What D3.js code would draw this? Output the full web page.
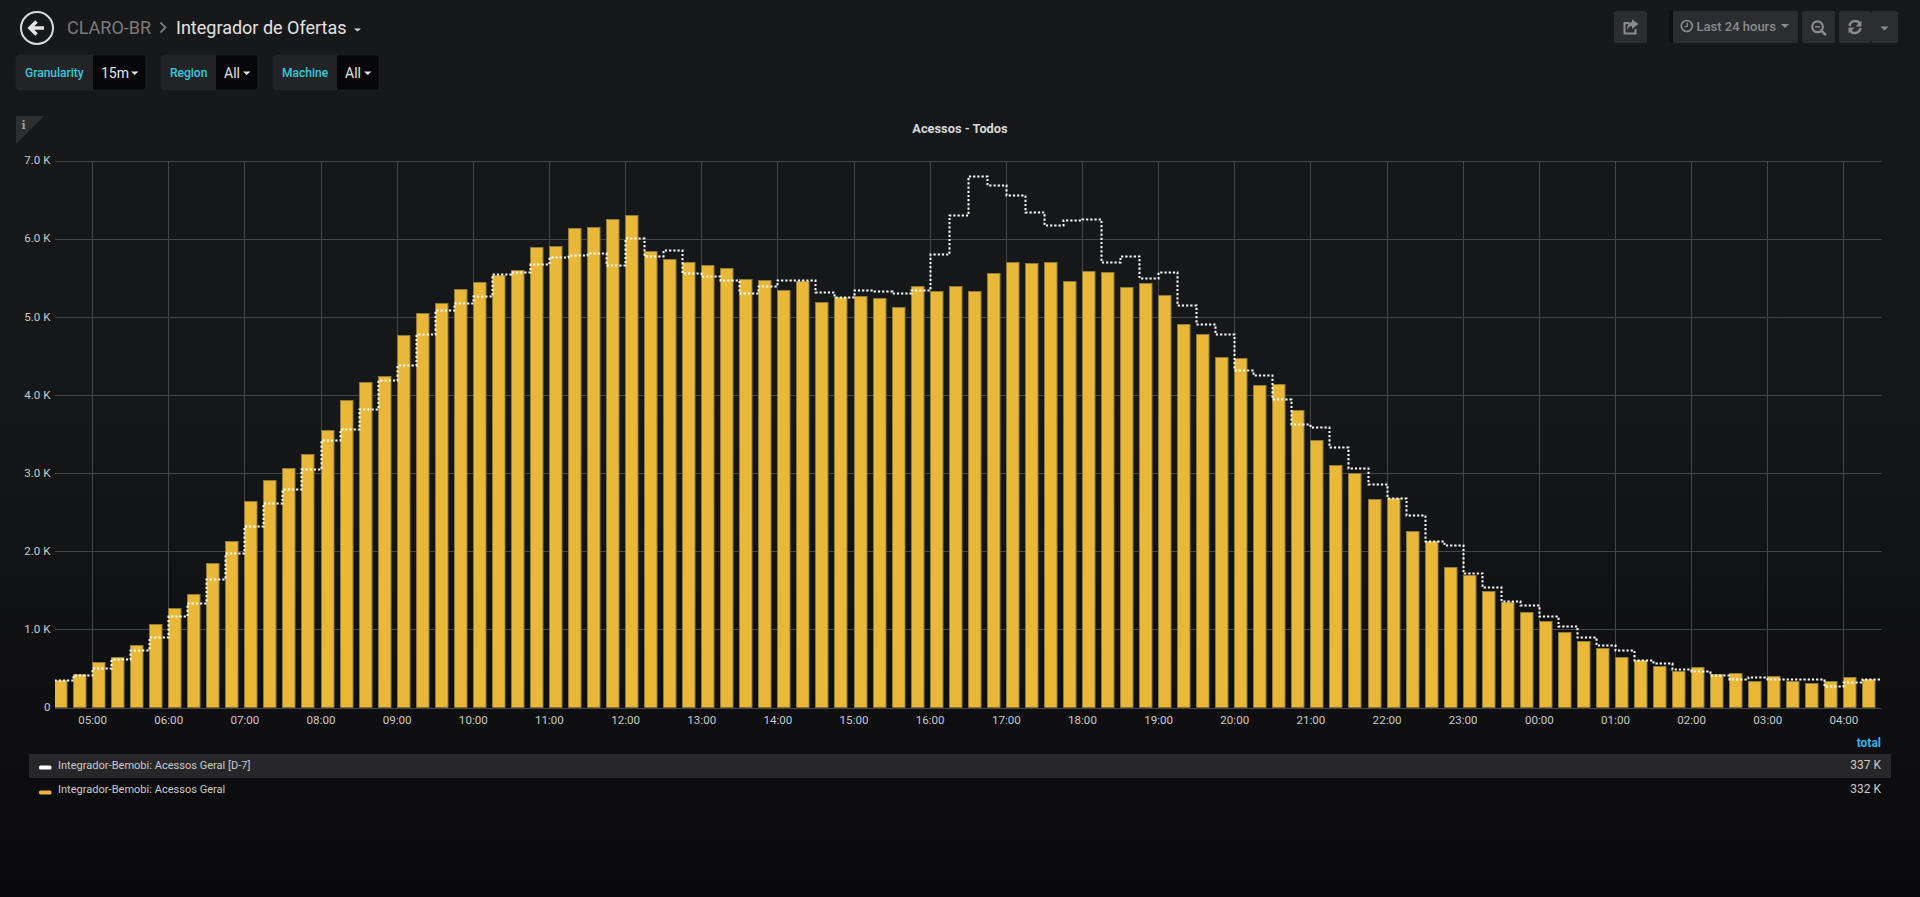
<!DOCTYPE html>
<html>
<head>
<meta charset="utf-8">
<title>Integrador de Ofertas</title>
<script src="https://cdn.jsdelivr.net/npm/d3@7"></script>
<style>
    html, body { margin: 0; padding: 0; background: #0b0c0e; overflow: hidden; }
    svg { display: block; }
    text { font-family: Roboto, "Noto Sans", sans-serif; }
</style>
</head>
<body>
<div id="chart"></div>
<script>
// values, one per 15 minute bucket, starting 04:30
const acessosGeral = [
    350, 435, 584, 640, 806, 1074, 1279, 1458, 1854, 2135, 2647, 2916,
    3069, 3240, 3555, 3934, 4167, 4240, 4764, 5045, 5175, 5355, 5440, 5534,
    5603, 5897, 5910, 6141, 6154, 6256, 6303, 5846, 5744, 5697, 5667, 5628,
    5483, 5466, 5338, 5462, 5184, 5248, 5261, 5239, 5120, 5389, 5333, 5397,
    5329, 5564, 5701, 5688, 5701, 5462, 5585, 5573, 5376, 5436, 5273, 4904,
    4778, 4491, 4474, 4128, 4141, 3803, 3423, 3103, 2996, 2667, 2675, 2258,
    2134, 1800, 1694, 1485, 1347, 1225, 1113, 964, 857, 763, 644, 606,
    525, 469, 520, 435, 444, 333, 409, 341, 311, 333, 392, 362
];
const acessosGeralD7 = [
    358, 413, 507, 618, 742, 899, 1172, 1334, 1650, 1974, 2323, 2613,
    2800, 3052, 3419, 3568, 3824, 4188, 4385, 4776, 5081, 5171, 5261, 5547,
    5568, 5675, 5761, 5786, 5816, 5658, 6013, 5778, 5850, 5556, 5517, 5474,
    5299, 5389, 5466, 5466, 5320, 5248, 5346, 5333, 5303, 5346, 5799, 6308,
    6808, 6692, 6560, 6338, 6179, 6235, 6256, 5705, 5774, 5500, 5573, 5150,
    4906, 4778, 4325, 4261, 3953, 3632, 3590, 3338, 3060, 2855, 2680, 2465,
    2134, 2085, 1719, 1536, 1362, 1318, 1173, 1045, 896, 797, 742, 610,
    567, 490, 465, 418, 367, 392, 362, 362, 362, 277, 320, 362
];
const yTicks = [0, 1000, 2000, 3000, 4000, 5000, 6000, 7000];
const seriesNames = ["Integrador-Bemobi: Acessos Geral [D-7]", "Integrador-Bemobi: Acessos Geral"];
const seriesTotals = ["337 K", "332 K"];
const seriesColors = ["#ffffff", "#EAB839"];

const width = 1920, height = 897;
const margin = { top: 160.5, right: 38.5, bottom: 189.5, left: 54 };
const bucket = 15 * 60 * 1000;
const start = new Date(2019, 0, 15, 4, 30).getTime();
const times = acessosGeral.map((d, i) => new Date(start + i * bucket));
const end = new Date(start + times.length * bucket);

const svg = d3.select("#chart").append("svg")
    .attr("width", width)
    .attr("height", height);

const defs = svg.append("defs");
const bg = defs.append("linearGradient")
    .attr("id", "page-bg")
    .attr("x1", 0).attr("y1", 0).attr("x2", 0).attr("y2", 1);
bg.append("stop").attr("offset", "0%").attr("stop-color", "#17181a");
bg.append("stop").attr("offset", "45%").attr("stop-color", "#161719");
bg.append("stop").attr("offset", "100%").attr("stop-color", "#0a0a0c");

svg.append("rect")
    .attr("width", width)
    .attr("height", height)
    .attr("fill", "url(#page-bg)");

drawHeader();
drawPanel();
drawLegend();

function drawPanel() {
    const x = d3.scaleTime()
        .domain([times[0], end])
        .range([margin.left, width - margin.right]);
    const y = d3.scaleLinear()
        .domain([0, 7000])
        .range([height - margin.bottom, margin.top]);

    defs.append("clipPath")
        .attr("id", "plot-clip")
        .append("rect")
        .attr("x", margin.left + 1)
        .attr("y", margin.top - 2)
        .attr("width", width - margin.left - margin.right - 1)
        .attr("height", height - margin.top - margin.bottom + 2);

    // info corner
    svg.append("path").attr("d", "M16,116H44L16,144Z").attr("fill", "#2e2f33");
    svg.append("text")
        .attr("x", 23.5).attr("y", 128.5)
        .attr("text-anchor", "middle")
        .attr("fill", "#a0a0a2")
        .attr("font-size", 11)
        .style("font-family", "DejaVu Serif")
        .attr("font-weight", 700)
        .text("i");

    svg.append("text")
        .attr("x", 960).attr("y", 133)
        .attr("text-anchor", "middle")
        .attr("fill", "#d8d9da")
        .attr("font-size", 12.8)
        .attr("font-weight", 700)
        .text("Acessos - Todos");

    // grid
    const hours = times.filter(t => t.getMinutes() === 0);
    svg.append("g").selectAll("line")
        .data(hours)
        .join("line")
        .attr("x1", d => Math.round(x(d)) + 0.5)
        .attr("x2", d => Math.round(x(d)) + 0.5)
        .attr("y1", Math.round(y(7000)) + 0.5)
        .attr("y2", Math.round(y(0)) + 0.5)
        .attr("stroke", "#454648");
    svg.append("g").selectAll("line")
        .data(yTicks)
        .join("line")
        .attr("x1", margin.left + 1)
        .attr("x2", width - margin.right)
        .attr("y1", d => Math.round(y(d)) + 0.5)
        .attr("y2", d => Math.round(y(d)) + 0.5)
        .attr("stroke", "#454648");

    // axes
    const xAxis = d3.axisBottom(x)
        .tickValues(hours)
        .tickSize(0)
        .tickPadding(0)
        .tickFormat(d3.timeFormat("%H:%M"));
    const xAxisGroup = svg.append("g")
        .attr("transform", `translate(0, ${y(0) + 8.5})`)
        .call(xAxis);
    const yAxis = d3.axisLeft(y)
        .tickValues(yTicks)
        .tickSize(0)
        .tickPadding(4)
        .tickFormat(d => d === 0 ? "0" : d3.format(".1f")(d / 1000) + " K");
    const yAxisGroup = svg.append("g")
        .attr("transform", `translate(${margin.left + 0.5}, 0)`)
        .call(yAxis);
    [xAxisGroup, yAxisGroup].forEach(g => {
        g.attr("font-family", null);
        g.select(".domain").remove();
        g.selectAll("text")
            .attr("fill", "#c8c9ca")
            .attr("font-size", 11.6);
    });
    yAxisGroup.selectAll("text").attr("dy", "0.28em");

    const plot = svg.append("g").attr("clip-path", "url(#plot-clip)");

    // bars
    const barW = (x(times[1]) - x(times[0])) * 0.68;
    plot.append("g").selectAll("rect")
        .data(acessosGeral)
        .join("rect")
        .attr("x", (d, i) => Math.round(x(times[i])) + 0.5)
        .attr("y", d => Math.round(y(d)) + 0.5)
        .attr("width", Math.round(barW) - 0.5)
        .attr("height", d => Math.round(y(0)) - Math.round(y(d)) - 0.5)
        .attr("fill", seriesColors[1])
        .attr("stroke", "#917c35")
        .attr("stroke-width", 1);

    // D-7 line, held flat until the end of the last bucket
    const line = d3.line()
        .x(d => Math.round(x(d[0])) + 0.5)
        .y(d => Math.round(y(d[1])) + 0.5)
        .curve(d3.curveStepAfter);
    const linePoints = acessosGeralD7.map((d, i) => [times[i], d]);
    linePoints.push([end, acessosGeralD7[acessosGeralD7.length - 1]]);
    plot.append("path")
        .attr("d", line(linePoints))
        .attr("fill", "none")
        .attr("stroke", seriesColors[0])
        .attr("stroke-width", 2)
        .attr("stroke-dasharray", "2.2,2");
}

function drawLegend() {
    svg.append("text")
        .attr("x", 1881).attr("y", 747)
        .attr("text-anchor", "end")
        .attr("fill", "#33b5e5")
        .attr("font-size", 12)
        .attr("font-weight", 700)
        .text("total");

    svg.append("rect")
        .attr("x", 29).attr("y", 754)
        .attr("width", 1862).attr("height", 24)
        .attr("fill", "#272729");

    const rows = svg.append("g").selectAll("g")
        .data(seriesNames)
        .join("g")
        .attr("transform", (d, i) => `translate(0, ${766 + i * 24})`);
    rows.append("rect")
        .attr("x", 39).attr("y", (d, i) => i === 0 ? -0.5 : 0.5)
        .attr("width", 12.5).attr("height", 4)
        .attr("rx", 1.5)
        .attr("fill", (d, i) => seriesColors[i]);
    rows.append("text")
        .attr("x", 58).attr("y", 2.5)
        .attr("fill", "#c8c9ca")
        .attr("font-size", 11.05)
        .text(d => d);
    rows.append("text")
        .attr("x", 1881).attr("y", 2.5)
        .attr("text-anchor", "end")
        .attr("fill", "#c8c9ca")
        .attr("font-size", 12)
        .text((d, i) => seriesTotals[i]);
}

function drawHeader() {
    // back button
    svg.append("circle")
        .attr("cx", 37).attr("cy", 28).attr("r", 16)
        .attr("fill", "none").attr("stroke", "#dcdcdc").attr("stroke-width", 2);
    svg.append("path")
        .attr("d", "M44,28H31M36.5,21.5L30,28L36.5,34.5")
        .attr("fill", "none").attr("stroke", "#e4e4e4").attr("stroke-width", 3.6);

    svg.append("text")
        .attr("x", 67).attr("y", 34)
        .attr("fill", "#7b7b7b")
        .attr("font-size", 18)
        .text("CLARO-BR");
    svg.append("path")
        .attr("d", "M160.5,22.5L165.5,27.5L160.5,32.5")
        .attr("fill", "none").attr("stroke", "#7b7b7b").attr("stroke-width", 1.8);
    svg.append("text")
        .attr("x", 176).attr("y", 34)
        .attr("fill", "#e3e3e3")
        .attr("font-size", 18)
        .text("Integrador de Ofertas");
    svg.append("path").attr("d", "M354,28.5h7l-3.5,3Z").attr("fill", "#d8d9da");

    // template variables
    const vars = [
        { label: "Granularity", value: "15m", x: 16, labelW: 77, valueW: 53 },
        { label: "Region", value: "All", x: 161, labelW: 55, valueW: 42 },
        { label: "Machine", value: "All", x: 273, labelW: 64, valueW: 42 }
    ];
    const varGroups = svg.append("g").selectAll("g")
        .data(vars)
        .join("g")
        .attr("transform", d => `translate(${d.x}, 55)`);
    varGroups.append("rect")
        .attr("width", d => d.labelW + d.valueW).attr("height", 35)
        .attr("rx", 3)
        .attr("fill", "#07070a").attr("stroke", "#1d1e21");
    varGroups.append("path")
        .attr("d", d => `M3,0H${d.labelW}V35H3a3,3 0 0 1 -3,-3V3a3,3 0 0 1 3,-3Z`)
        .attr("fill", "#212327");
    varGroups.append("text")
        .attr("x", 9).attr("y", 22)
        .attr("fill", "#33c9dc")
        .attr("font-size", 12)
        .attr("font-weight", 500)
        .text(d => d.label);
    varGroups.append("text")
        .attr("x", d => d.labelW + 8).attr("y", 23)
        .attr("fill", "#e3e3e3")
        .attr("font-size", 14)
        .text(d => d.value);
    varGroups.append("path")
        .attr("d", d => `M${d.labelW + d.valueW - 15},16.5h7.5l-3.75,3.5Z`)
        .attr("fill", "#e3e3e3");

    // toolbar buttons
    const buttons = [[1614, 33], [1673, 125], [1802, 33], [1839, 32], [1871, 27]];
    svg.append("g").selectAll("rect")
        .data(buttons)
        .join("rect")
        .attr("x", d => d[0]).attr("y", 11)
        .attr("width", d => d[1]).attr("height", 32)
        .attr("rx", 2)
        .attr("fill", "#2c2d30");
    svg.append("rect").attr("x", 1669).attr("y", 11).attr("width", 4).attr("height", 32).attr("fill", "#0e0f11");

    const iconColor = "#8b8b8d";
    // share
    svg.append("path")
        .attr("d", "M1635.5,29V33.5H1624.5V23H1629")
        .attr("fill", "none").attr("stroke", iconColor).attr("stroke-width", 2);
    svg.append("path")
        .attr("d", "M1632,19.5L1638.5,24L1632,29V26C1629,26 1628,27.5 1627,30.5C1627,25 1629,22 1632,22Z")
        .attr("fill", iconColor);
    // clock
    svg.append("circle").attr("cx", 1686.8).attr("cy", 26).attr("r", 5.5)
        .attr("fill", "none").attr("stroke", iconColor).attr("stroke-width", 1.6);
    svg.append("path").attr("d", "M1687.3,22.5V26.5H1684.5")
        .attr("fill", "none").attr("stroke", iconColor).attr("stroke-width", 1.2);
    svg.append("text")
        .attr("x", 1696.5).attr("y", 31)
        .attr("fill", iconColor)
        .attr("font-size", 13)
        .attr("font-weight", 500)
        .text("Last 24 hours");
    svg.append("path").attr("d", "M1781,24h8l-4,4Z").attr("fill", iconColor);
    // zoom out
    svg.append("circle").attr("cx", 1817.5).attr("cy", 26.8).attr("r", 5.4)
        .attr("fill", "none").attr("stroke", iconColor).attr("stroke-width", 2.2);
    svg.append("path").attr("d", "M1815,26.8h5").attr("stroke", iconColor).attr("stroke-width", 1.6);
    svg.append("path").attr("d", "M1821.5,31L1826,35").attr("stroke", iconColor).attr("stroke-width", 2.4);
    // refresh
    svg.append("path")
        .attr("d", "M1849.5,26A5.8,5.8 0 0 1 1860,23.5M1860.5,28A5.8,5.8 0 0 1 1850,30.5")
        .attr("fill", "none").attr("stroke", iconColor).attr("stroke-width", 2.4);
    svg.append("path").attr("d", "M1861.5,20.5v6h-6ZM1848.5,33.5v-6h6Z").attr("fill", iconColor);
    svg.append("path").attr("d", "M1880.5,26.5h8l-4,4Z").attr("fill", iconColor);
}
</script>
</body>
</html>
